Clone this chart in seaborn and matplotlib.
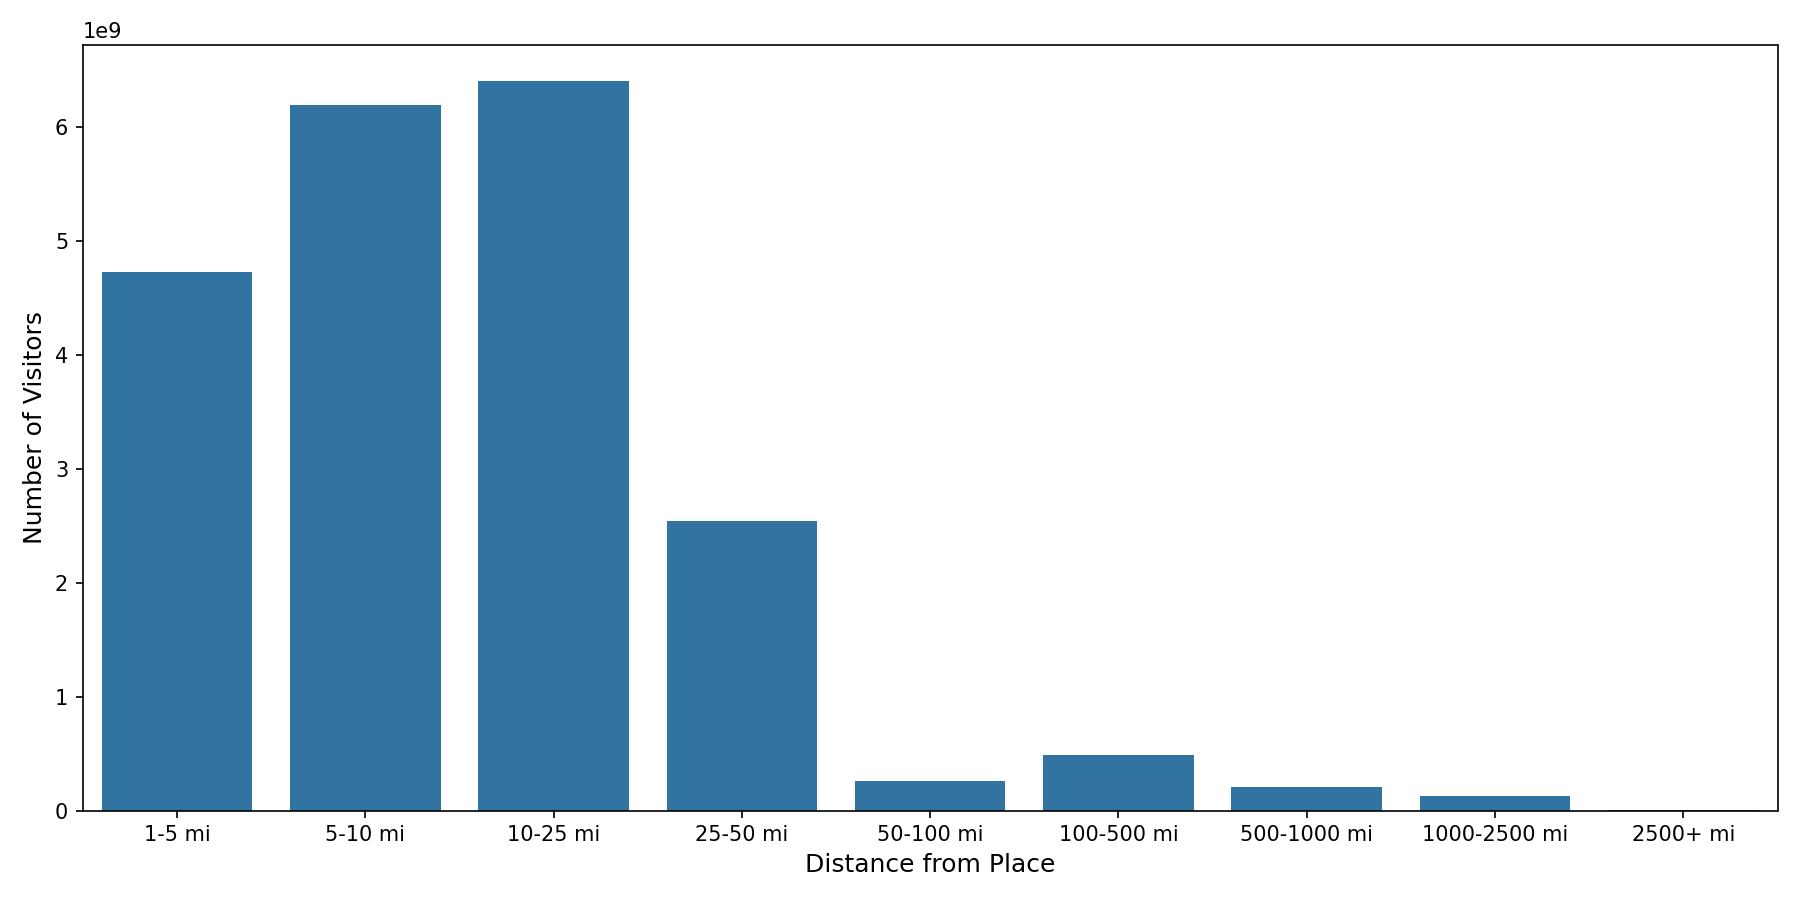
import matplotlib
matplotlib.use("Agg")
import matplotlib.pyplot as plt
import seaborn as sns
import pandas as pd

categories = ["1-5 mi", "5-10 mi", "10-25 mi", "25-50 mi", "50-100 mi", "100-500 mi",
              "500-1000 mi", "1000-2500 mi", "2500+ mi"]
visitors = [4.73e9, 6.19e9, 6.40e9, 2.54e9, 0.26e9, 0.485e9, 0.21e9, 0.13e9, 0.005e9]

df = pd.DataFrame({"Distance from Place": categories, "Number of Visitors": visitors})

fig, ax = plt.subplots(figsize=(12, 6), dpi=150)
sns.barplot(data=df, x="Distance from Place", y="Number of Visitors", color="#1f77b4", ax=ax)
ax.set_xlabel("Distance from Place", fontsize=12)
ax.set_ylabel("Number of Visitors", fontsize=12)
plt.tight_layout()
fig.savefig("out.png", dpi=150)
